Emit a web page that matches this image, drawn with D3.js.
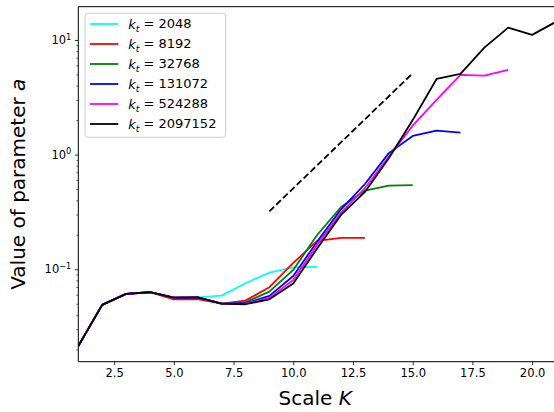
<!DOCTYPE html>
<html>
<head>
<meta charset="utf-8">
<script src="https://cdn.jsdelivr.net/npm/d3@7"></script>
<style>
  body { margin: 0; background: #fff; }
  svg { display: block; font-family: "DejaVu Sans", sans-serif; }
</style>
</head>
<body>
<svg id="chart" width="554" height="412"></svg>
<script>
// ---- data ----
const scaleK = [1,2,3,4,5,6,7,8,9,10,11,12,13,14,15,16,17,18,19,20,21];
const kt2048    = [0.0214,0.0489,0.0610,0.0630,0.0565,0.0568,0.0589,0.0755,0.0934,0.1038,0.1047];
const kt8192    = [0.0214,0.0489,0.0610,0.0630,0.0545,0.0550,0.0501,0.0532,0.0697,0.1135,0.1767,0.1876,0.1876];
const kt32768   = [0.0214,0.0489,0.0610,0.0630,0.0565,0.0568,0.0501,0.0515,0.0638,0.0986,0.199,0.349,0.486,0.536,0.541];
const kt131072  = [0.0214,0.0489,0.0610,0.0630,0.0565,0.0568,0.0501,0.0505,0.0585,0.0874,0.174,0.333,0.554,1.03,1.455,1.618,1.553];
const kt524288  = [0.0214,0.0489,0.0610,0.0630,0.0565,0.0568,0.0501,0.0500,0.0562,0.0807,0.163,0.312,0.509,0.96,1.789,3.0,4.95,4.89,5.47];
const kt2097152 = [0.0214,0.0489,0.0610,0.0630,0.0565,0.0568,0.0501,0.0495,0.0547,0.0752,0.152,0.298,0.472,0.929,2.0,4.57,5.05,8.57,12.8,11.07,14.4];
const guideK = [9, 15];
const guideA = [0.32, 5.12];
const seriesNames = ["2048","8192","32768","131072","524288","2097152"];
const seriesColors = ["#00ffff","#ff0000","#008000","#0000ff","#ff00ff","#000000"];
const seriesValues = [kt2048, kt8192, kt32768, kt131072, kt524288, kt2097152];
const xTicks = [2.5,5.0,7.5,10.0,12.5,15.0,17.5,20.0];
const yMajor = [0.1, 1, 10];
const yMajorExp = ["\u22121", "0", "1"];

// ---- layout ----
const svg = d3.select("#chart");
const L = 78.3, R = 556, T = 6.7, B = 361.7;
const x = d3.scaleLinear().domain([1, 21]).range([L, R]);
const y = d3.scaleLog().domain([0.01561, 19.5]).range([B, T]);

// minor ticks
const yMinor = [];
for (let e = -2; e <= 1; e++) for (let m = 2; m <= 9; m++) {
  const v = m * Math.pow(10, e);
  if (v >= y.domain()[0] && v <= y.domain()[1]) yMinor.push(v);
}

const gx = svg.append("g").attr("transform", `translate(0,${B})`)
  .call(d3.axisBottom(x).tickValues(xTicks).tickFormat(d3.format(".1f")).tickSize(3.5).tickPadding(3.5));
gx.select(".domain").remove();
gx.selectAll("line").attr("stroke", "#000").attr("stroke-width", 0.8);
gx.selectAll("text").attr("font-size", 11.5).attr("fill", "#000").attr("font-family", "DejaVu Sans");

const gyMinor = svg.append("g").attr("transform", `translate(${L},0)`)
  .call(d3.axisLeft(y).tickValues(yMinor).tickFormat("").tickSize(2));
gyMinor.select(".domain").remove();
gyMinor.selectAll("line").attr("stroke", "#000").attr("stroke-width", 0.6);

const gy = svg.append("g").attr("transform", `translate(${L},0)`)
  .call(d3.axisLeft(y).tickValues(yMajor).tickFormat("").tickSize(3.5));
gy.select(".domain").remove();
gy.selectAll("line").attr("stroke", "#000").attr("stroke-width", 0.8);
gy.selectAll(".tick").each(function(d, i) {
  const t = d3.select(this).append("text")
    .attr("x", -7).attr("dy", "0.32em").attr("text-anchor", "end")
    .attr("font-size", 11.5).attr("fill", "#000").attr("font-family", "DejaVu Sans");
  t.append("tspan").text("10");
  t.append("tspan").attr("font-size", 8.2).attr("dy", "-0.55em").text(yMajorExp[i]);
});

// clip
svg.append("clipPath").attr("id", "clip").append("rect")
  .attr("x", L).attr("y", T).attr("width", R - L).attr("height", B - T);

const line = d3.line().x(d => x(d[0])).y(d => y(d[1]));
const plot = svg.append("g").attr("clip-path", "url(#clip)");

plot.append("path")
  .attr("d", line(guideK.map((k, i) => [k, guideA[i]])))
  .attr("fill", "none").attr("stroke", "#000").attr("stroke-width", 1.8)
  .attr("stroke-dasharray", "6.5,3");

seriesValues.forEach((vals, s) => {
  plot.append("path")
    .attr("d", line(vals.map((v, i) => [scaleK[i], v])))
    .attr("fill", "none").attr("stroke", seriesColors[s])
    .attr("stroke-width", 1.8).attr("stroke-linejoin", "round");
});

// frame
svg.append("path")
  .attr("d", `M${L},${T}H${R}M${L},${T}V${B}H${R}`)
  .attr("fill", "none").attr("stroke", "#000").attr("stroke-width", 1);

// legend
const lg = svg.append("g");
lg.append("rect").attr("x", 85).attr("y", 13.3).attr("width", 140.7).attr("height", 124)
  .attr("rx", 3).attr("fill", "#fff").attr("fill-opacity", 0.8)
  .attr("stroke", "#cccccc").attr("stroke-width", 1);
seriesNames.forEach((n, i) => {
  const yy = 24 + i * 20;
  lg.append("line").attr("x1", 90).attr("x2", 118.3).attr("y1", yy).attr("y2", yy)
    .attr("stroke", seriesColors[i]).attr("stroke-width", 1.8);
  const t = lg.append("text").attr("x", 128.3).attr("y", yy).attr("dy", "0.35em")
    .attr("font-size", 13).attr("fill", "#000");
  t.append("tspan").attr("font-style", "italic").text("k");
  t.append("tspan").attr("font-style", "italic").attr("font-size", 9).attr("dy", "0.35em").text("t");
  t.append("tspan").attr("dy", "-0.3em").text(" = " + n);
});

// axis labels
const xl = svg.append("text").attr("x", (L + R) / 2 - 2).attr("y", 405)
  .attr("text-anchor", "middle").attr("font-size", 20).attr("fill", "#000");
xl.append("tspan").text("Scale ");
xl.append("tspan").attr("font-style", "italic").text("K");

const yl = svg.append("text")
  .attr("transform", `translate(24.5,${(T + B) / 2}) rotate(-90)`)
  .attr("text-anchor", "middle").attr("font-size", 20).attr("fill", "#000");
yl.append("tspan").text("Value of parameter ");
yl.append("tspan").attr("font-style", "italic").text("a");
</script>
</body>
</html>
